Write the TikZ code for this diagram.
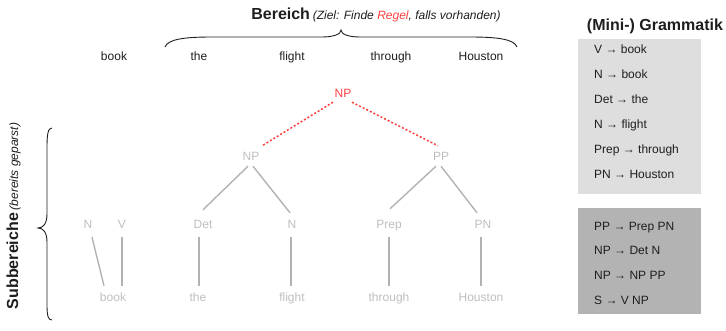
\documentclass[tikz,border=0pt]{standalone}
\usepackage{fontspec}
\setmainfont{Liberation Sans}
\definecolor{myred}{RGB}{255,64,64}
\definecolor{lgray}{RGB}{190,190,190}
\definecolor{lline}{RGB}{178,178,178}
\definecolor{boxone}{RGB}{222,222,222}
\definecolor{boxtwo}{RGB}{179,179,179}
\definecolor{ink}{RGB}{30,30,30}
\begin{document}
\begin{tikzpicture}[x=1pt,y=-1pt,
 word/.style={inner sep=0pt, text height=9pt, text depth=3pt, font=\fontsize{12}{14}\selectfont, text=ink},
 cat/.style={word, text=lgray},
 edge/.style={draw=lline, line width=1.4pt},
 redge/.style={draw=myred, line width=1.5pt, dash pattern=on 2pt off 2pt},
 rule/.style={anchor=west, inner sep=0pt, text height=9pt, text depth=3pt, font=\fontsize{12}{14}\selectfont, text=ink},
 heading/.style={inner sep=0pt, anchor=base, text=ink},
 bracestyle/.style={draw=ink, line width=0.9pt}
]
\useasboundingbox (0,0) rectangle (726,330);

% headings
\node[heading] (bereich) at (376,19.5) {{\fontsize{16}{18}\selectfont\bfseries Bereich} {\fontsize{12}{14}\selectfont\itshape (Ziel: Finde \textcolor{myred}{Regel}, falls vorhanden)}};
\node[heading] (gram) at (655,30) {\fontsize{16}{18}\selectfont\bfseries (Mini-) Grammatik};
\node[heading, rotate=90] (sub) at (18,216) {{\fontsize{16}{18}\selectfont\bfseries Subbereiche} {\fontsize{12}{14}\selectfont\itshape (bereits geparst)}};

% braces
\coordinate (tbl) at (165,47);
\coordinate (tbr) at (517,47);
\coordinate (tbt) at (341,30);
\draw[bracestyle] (tbl) .. controls (168,39) and (185,37) .. (212,37) -- (322,37)
  .. controls (334,37) and (341,34) .. (tbt)
  .. controls (341,34) and (348,37) .. (360,37) -- (470,37)
  .. controls (497,37) and (514,39) .. (tbr);
\coordinate (lbt) at (52,128);
\coordinate (lbb) at (52,320);
\coordinate (lbm) at (38,228);
\draw[bracestyle] (lbt) .. controls (48,128) and (47,134) .. (47,148) -- (47,214)
  .. controls (47,224) and (43,228) .. (lbm)
  .. controls (43,228) and (47,232) .. (47,242) -- (47,304)
  .. controls (47,316) and (48,320) .. (lbb);

% top words
\node[word] (w1) at (114,57) {book};
\node[word] (w2) at (199,57) {the};
\node[word] (w3) at (292,57) {flight};
\node[word] (w4) at (391,57) {through};
\node[word] (w5) at (481,57) {Houston};

% tree
\node[word, text=myred] (top) at (343,94) {NP};
\node[cat] (npl) at (251,157) {NP};
\node[cat] (pp) at (441,157) {PP};
\node[cat] (cn) at (88,225) {N};
\node[cat] (cv) at (122,225) {V};
\node[cat] (det) at (203,225) {Det};
\node[cat] (nn) at (292,225) {N};
\node[cat] (prep) at (389,225) {Prep};
\node[cat] (pn) at (483,225) {PN};
\node[cat] (b1) at (113,298) {book};
\node[cat] (b2) at (198,298) {the};
\node[cat] (b3) at (292,298) {flight};
\node[cat] (b4) at (389,298) {through};
\node[cat] (b5) at (481,298) {Houston};

\draw[redge] ([shift={(-10,2)}]top.south) -- ([shift={(11,-5)}]npl.north);
\draw[redge] ([shift={(9,2)}]top.south) -- ([shift={(-3,-5)}]pp.north);

\draw[edge] ([shift={(-3,3)}]npl.south) -- ([shift={(0,-9)}]det.north);
\draw[edge] ([shift={(2,3)}]npl.south) -- ([shift={(-2,-6)}]nn.north);
\draw[edge] ([shift={(-5,3)}]pp.south) -- ([shift={(1,-10)}]prep.north);
\draw[edge] ([shift={(0,3)}]pp.south) -- ([shift={(-6,-6)}]pn.north);

\draw[edge] ([shift={(4,6)}]cn.south) -- ([shift={(-9,-6)}]b1.north);
\draw[edge] ([shift={(0,6)}]cv.south) -- ([shift={(9,-6)}]b1.north);
\draw[edge] ([shift={(-4,6)}]det.south) -- ([shift={(1,-6)}]b2.north);
\draw[edge] ([shift={(-1,6)}]nn.south) -- ([shift={(-1,-6)}]b3.north);
\draw[edge] ([shift={(0,6)}]prep.south) -- ([shift={(0,-6)}]b4.north);
\draw[edge] ([shift={(-2,6)}]pn.south) -- ([shift={(0,-6)}]b5.north);

% grammar boxes
\fill[boxone] (578,39) rectangle (701,194);
\fill[boxtwo] (578,208) rectangle (701,314);
\node[rule] (r1) at (594,50) {V → book};
\node[rule] (r2) at (594,75) {N → book};
\node[rule] (r3) at (594,100) {Det → the};
\node[rule] (r4) at (594,125) {N → flight};
\node[rule] (r5) at (594,150) {Prep → through};
\node[rule] (r6) at (594,175) {PN → Houston};
\node[rule] (r7) at (594,227) {PP → Prep PN};
\node[rule] (r8) at (594,251) {NP → Det N};
\node[rule] (r9) at (594,276) {NP → NP PP};
\node[rule] (r10) at (594,301) {S → V NP};
\end{tikzpicture}
\end{document}
